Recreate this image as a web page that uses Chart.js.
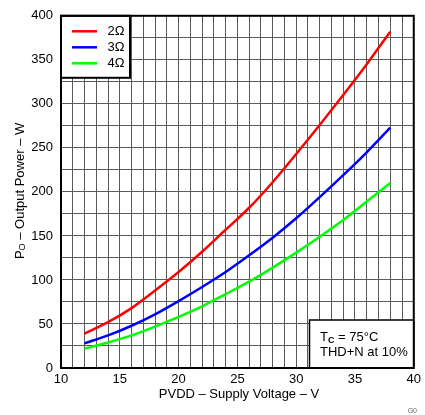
<!DOCTYPE html>
<html>
<head>
<meta charset="utf-8">
<script src="https://cdn.jsdelivr.net/npm/chart.js@4/dist/chart.umd.min.js"></script>
<style>
  html, body { margin: 0; padding: 0; background: #fff; }
  #wrap { width: 425px; height: 415px; }
</style>
</head>
<body>
<div id="wrap"><canvas id="chart" width="425" height="415"></canvas></div>
<script>
// supply voltage (V)
const voltage = [12, 14, 16, 18, 20, 22, 24, 26, 28, 30, 32, 34, 36, 38];
// output power (W)
const power2ohm = [39, 52, 68, 88, 109, 132, 157, 182, 211, 243, 276, 310, 345, 382];
const power3ohm = [28, 37, 48, 61, 76, 92, 109, 128, 148, 170, 194, 219, 245, 273];
const power4ohm = [22, 29, 37, 47, 58, 70, 84, 98, 114, 131, 149, 168, 189, 210];
const seriesLabels = ['2Ω', '3Ω', '4Ω'];
const seriesColors = ['#ff0000', '#0000ff', '#00ff00'];
const xTickLabels = ['10', '15', '20', '25', '30', '35', '40'];
const yTickLabels = ['0', '50', '100', '150', '200', '250', '300', '350', '400'];

const FONT = '"Liberation Sans", Arial, sans-serif';

const toPoints = (vals) => vals.map((p, i) => ({ x: voltage[i], y: p }));

// frame, legend box, notes and titles
const decorations = {
    id: 'decorations',
    afterDraw(chart) {
        const { ctx, chartArea: a } = chart;
        ctx.save();

        // legend box, top-left inside the plot
        const lg = { x: a.left, y: a.top, w: 69, h: 62 };
        ctx.fillStyle = '#fff';
        ctx.fillRect(lg.x, lg.y, lg.w, lg.h);
        ctx.strokeStyle = '#000';
        ctx.lineWidth = 2;
        ctx.strokeRect(lg.x, lg.y, lg.w, lg.h);
        ctx.font = '13px ' + FONT;
        ctx.textBaseline = 'middle';
        chart.data.datasets.forEach((ds, i) => {
            const y = a.top + 15.5 + i * 16;
            ctx.strokeStyle = ds.borderColor;
            ctx.lineWidth = 2.5;
            ctx.beginPath();
            ctx.moveTo(a.left + 11, y);
            ctx.lineTo(a.left + 36, y);
            ctx.stroke();
            ctx.fillStyle = '#000';
            ctx.fillText(ds.label, a.left + 46.5, y + 0.5);
        });

        // condition note, bottom-right inside the plot
        const nb = { x: 309.5, y: 320, w: a.right - 309.5, h: a.bottom - 320 };
        ctx.fillStyle = '#fff';
        ctx.fillRect(nb.x, nb.y, nb.w, nb.h);
        ctx.strokeStyle = '#000';
        ctx.lineWidth = 1.5;
        ctx.strokeRect(nb.x, nb.y, nb.w, nb.h);
        ctx.fillStyle = '#000';
        ctx.textBaseline = 'alphabetic';
        let tx = 320;
        ctx.font = '13px ' + FONT;
        ctx.fillText('T', tx, 341);
        tx += ctx.measureText('T').width;
        ctx.font = 'bold 9px ' + FONT;
        ctx.fillText('C', tx, 342.5);
        tx += ctx.measureText('C').width;
        ctx.font = '13px ' + FONT;
        ctx.fillText(' = 75°C', tx, 341);
        ctx.fillText('THD+N at 10%', 320, 356);

        // heavy frame round the plot
        ctx.strokeStyle = '#000';
        ctx.lineWidth = 2;
        ctx.strokeRect(a.left, a.top, a.right - a.left, a.bottom - a.top);

        // x title
        ctx.font = '13px ' + FONT;
        ctx.textAlign = 'center';
        ctx.textBaseline = 'middle';
        ctx.fillText('PVDD – Supply Voltage – V', 239, 394);

        // y title with subscript, rotated
        ctx.translate(20, (a.top + a.bottom) / 2 - 1);
        ctx.rotate(-Math.PI / 2);
        ctx.textAlign = 'left';
        const rest = ' – Output Power – W';
        ctx.font = '13px ' + FONT;
        const wP = ctx.measureText('P').width;
        const wR = ctx.measureText(rest).width;
        ctx.font = '9px ' + FONT;
        const wO = ctx.measureText('O').width;
        let ux = -(wP + wO + wR) / 2;
        ctx.font = '13px ' + FONT;
        ctx.fillText('P', ux, 0);
        ux += wP;
        ctx.font = '9px ' + FONT;
        ctx.fillText('O', ux, 3);
        ux += wO;
        ctx.font = '13px ' + FONT;
        ctx.fillText(rest, ux, 0);
        ctx.setTransform(1, 0, 0, 1, 0, 0);

        // figure id
        ctx.font = '7px ' + FONT;
        ctx.fillStyle = '#666';
        ctx.textAlign = 'right';
        ctx.fillText('G0', 417, 411);
        ctx.restore();
    }
};

new Chart(document.getElementById('chart'), {
    type: 'line',
    data: {
        datasets: [power2ohm, power3ohm, power4ohm].map((vals, i) => ({
            label: seriesLabels[i],
            data: toPoints(vals),
            borderColor: seriesColors[i],
            borderWidth: 2.5,
            pointRadius: 0,
            tension: 0.4,
            cubicInterpolationMode: 'monotone',
            fill: false
        }))
    },
    options: {
        responsive: false,
        animation: false,
        layout: { padding: { left: 0, right: 9, top: 13, bottom: 0 } },
        plugins: {
            legend: { display: false },
            tooltip: { enabled: false }
        },
        scales: {
            x: {
                type: 'linear',
                min: 10,
                max: 40,
                afterFit: (s) => { s.height = 47; },
                ticks: {
                    stepSize: 1,
                    autoSkip: false,
                    maxRotation: 0,
                    padding: 4,
                    color: '#000',
                    font: { family: FONT, size: 13 },
                    callback: (v) => xTickLabels.includes(String(v)) ? String(v) : ''
                },
                grid: { color: '#5a5a5a', lineWidth: 1, drawTicks: false },
                border: { display: false }
            },
            y: {
                min: 0,
                max: 400,
                afterFit: (s) => { s.width = 61; },
                ticks: {
                    stepSize: 25,
                    autoSkip: false,
                    padding: 8,
                    color: '#000',
                    font: { family: FONT, size: 13 },
                    callback: (v) => yTickLabels.includes(String(v)) ? String(v) : ''
                },
                grid: { color: '#5a5a5a', lineWidth: 1, drawTicks: false },
                border: { display: false }
            }
        }
    },
    plugins: [decorations]
});
</script>
</body>
</html>
